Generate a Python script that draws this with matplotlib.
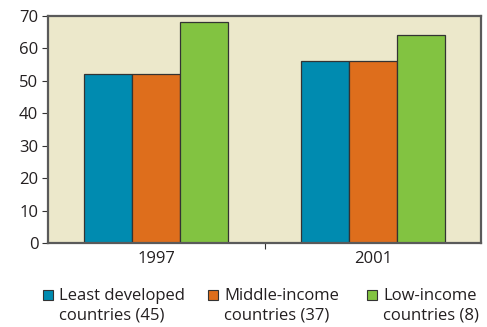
import numpy as np
import matplotlib.pyplot as plt
from matplotlib.patches import Rectangle

years = ["1997", "2001"]
series = ["Least developed\ncountries (45)", "Middle-income\ncountries (37)", "Low-income\ncountries (8)"]
values = [
    [52, 56],
    [52, 56],
    [68, 64],
]
colors = ["#008bb0", "#de6e1c", "#82c341"]

plt.rcParams['font.family'] = ['Open Sans', 'DejaVu Sans']

W, H = 487, 327
fig = plt.figure(figsize=(W / 100, H / 100), dpi=100)
ax = fig.add_axes([48 / W, 1 - 243 / H, 433 / W, 227 / H])
ax.set_facecolor("#ece8cb")

width = 0.222
centers = np.arange(len(years)) + 0.5
for i, (name, vals) in enumerate(zip(series, values)):
    ax.bar(centers + (i - 1) * width, vals, width, color=colors[i],
           edgecolor="#333333", linewidth=0.9, label=name)

ax.set_xlim(0, 2)
ax.set_ylim(0, 70)
ax.set_yticks(range(0, 71, 10))
ax.set_xticks([1])
ax.set_xticklabels([""])
ax.set_xticks(centers, years, minor=True)
ax.tick_params(axis="x", which="minor", length=0, labelsize=12, labelcolor="#231f20", pad=6)
ax.tick_params(axis="x", which="major", length=4, color="#333333")
ax.tick_params(axis="y", length=4, labelsize=12, color="#333333", labelcolor="#231f20", pad=3)
for s in ax.spines.values():
    s.set_color("#5a5a5a")
    s.set_linewidth(1.6)

# legend: square key aligned with the first line of each two-line label
key_x = [43, 208, 367]
key_y = 295
for x, name, c in zip(key_x, series, colors):
    fig.add_artist(Rectangle(((x) / W, 1 - (key_y + 5) / H), 10 / W, 10 / H,
                             transform=fig.transFigure, facecolor=c,
                             edgecolor="#333333", linewidth=0.8))
    fig.text((x + 16) / W, 1 - (key_y - 7) / H, name, ha="left", va="top",
             fontsize=12, color="#231f20", linespacing=1.3)

fig.savefig("out.png", dpi=100)
